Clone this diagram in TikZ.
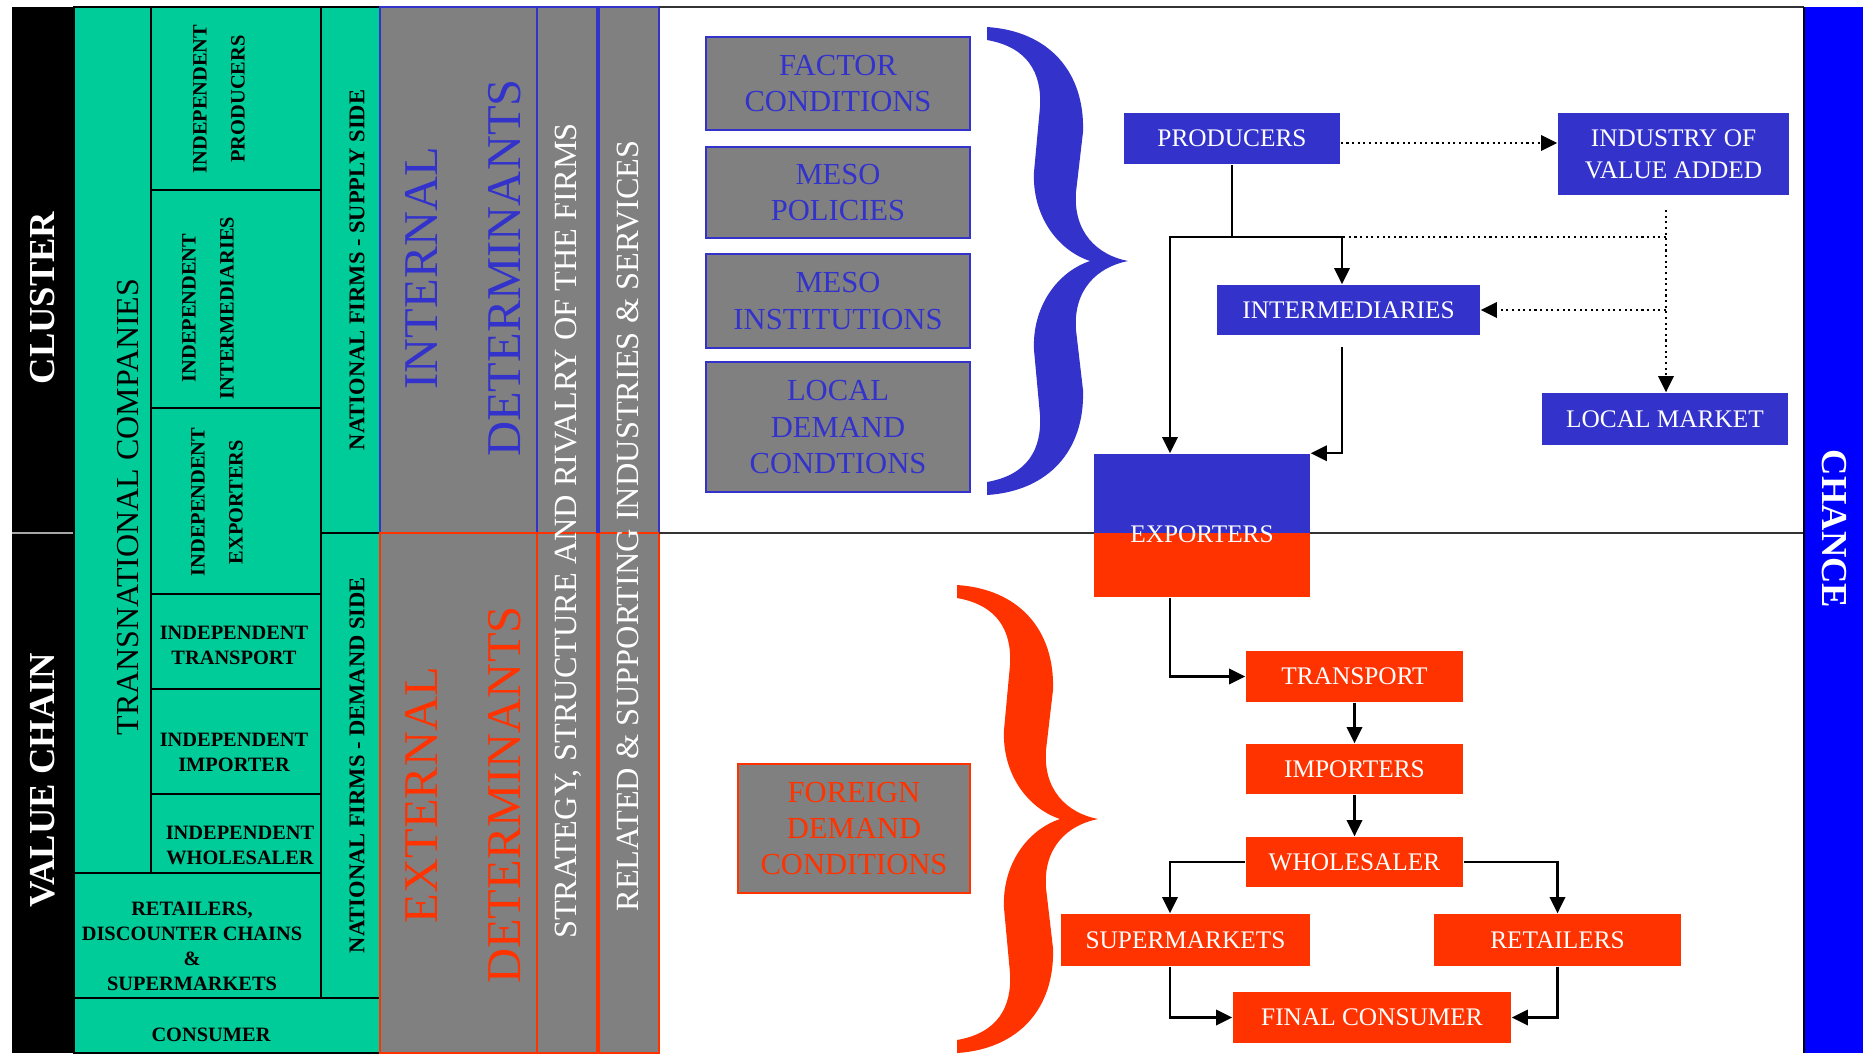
\documentclass[tikz,border=0pt]{standalone}
\usepackage{fontspec}
\setmainfont{Liberation Serif}
\usetikzlibrary{arrows.meta}

\definecolor{boxblue}{RGB}{51,51,204}
\definecolor{boxred}{RGB}{255,51,0}
\definecolor{cellgreen}{RGB}{0,204,153}
\definecolor{detgray}{RGB}{128,128,128}
\definecolor{chanceblue}{RGB}{0,0,255}

\newcommand\flowfont{\fontsize{7.2pt}{9pt}\selectfont}
\newcommand\condfont{\fontsize{8.7pt}{10.3pt}\selectfont}
\newcommand\cellfont{\bfseries\fontsize{5.8pt}{7.1pt}\selectfont}
\newcommand\sidefont{\bfseries\fontsize{5.8pt}{10.8pt}\selectfont}
\newcommand\natfont{\bfseries\fontsize{6.4pt}{8pt}\selectfont}
\newcommand\detfont{\fontsize{13.8pt}{23.6pt}\selectfont}
\newcommand\colfont{\fontsize{9.2pt}{11pt}\selectfont}
\newcommand\bigfont{\bfseries\fontsize{10.4pt}{12pt}\selectfont}
\newcommand\transfont{\fontsize{9.1pt}{11pt}\selectfont}

\tikzset{
  curly/.pic={
    \fill (0,0) .. controls (62,4) and (98,45) .. (96,105) -- (89,165)
      .. controls (86,205) and (110,228) .. (141,234)
      .. controls (110,240) and (86,263) .. (89,303) -- (96,363)
      .. controls (98,423) and (62,464) .. (0,468) -- (0,455)
      .. controls (40,448) and (55,423) .. (53,388) -- (47,323)
      .. controls (45,280) and (70,245) .. (103,234)
      .. controls (70,223) and (45,188) .. (47,145) -- (53,80)
      .. controls (55,45) and (40,20) .. (0,13) -- cycle;
  }
}

\begin{document}
\begin{tikzpicture}[x=0.01cm, y=-0.01cm,
  flowbox/.style={inner sep=0pt, text=white, font=\flowfont, align=center},
  bluebox/.style={flowbox, fill=boxblue},
  redbox/.style={flowbox, fill=boxred},
  condbox/.style={fill=detgray, draw=boxblue, line width=0.6pt, inner sep=0pt, align=center, text=boxblue, font=\condfont},
  cell/.style={fill=cellgreen, draw=black, line width=0.6pt},
  celltext/.style={font=\cellfont, align=center, inner sep=0pt},
  flowarrow/.style={-{Triangle[length=4.6pt,width=4.4pt]}, line width=0.6pt},
  dotarrow/.style={flowarrow, densely dotted},
]
\useasboundingbox[fill=white] (0,0) rectangle (1863,1053);

% left table
\fill[black] (12,7) rectangle (74,1053);
\draw[gray!70, line width=0.5pt] (12,533) -- (74,533);
\draw[cell] (74,7) rectangle (151,873);
\foreach \ya/\yb in {7/190, 190/408, 408/594, 594/689, 689/794, 794/873}
  \draw[cell] (151,\ya) rectangle (321,\yb);
\draw[cell] (74,873) rectangle (321,998);
\draw[cell] (74,998) rectangle (380,1053);
\draw[cell] (321,7) rectangle (380,533);
\draw[cell] (321,533) rectangle (380,998);

\node[white, font=\bigfont, rotate=90] (cluster) at (43,298) {CLUSTER};
\node[white, font=\bigfont, rotate=90] (valuechain) at (43,780) {VALUE CHAIN};
\node[font=\transfont, rotate=90] (tnc) at (128,507) {TRANSNATIONAL COMPANIES};
\node[celltext, font=\sidefont, rotate=90] (indprod) at (219,99) {INDEPENDENT\\PRODUCERS};
\node[celltext, font=\sidefont, rotate=90] (indinter) at (208,308) {INDEPENDENT\\INTERMEDIARIES};
\node[celltext, font=\sidefont, rotate=90] (indexp) at (217,502) {INDEPENDENT\\EXPORTERS};
\node[celltext] (indtrans) at (234,645) {INDEPENDENT\\TRANSPORT};
\node[celltext] (indimp) at (234,752) {INDEPENDENT\\IMPORTER};
\node[celltext] (indwhole) at (240,845) {INDEPENDENT\\WHOLESALER};
\node[celltext] (retail) at (192,946) {RETAILERS,\\DISCOUNTER CHAINS\\\&\\SUPERMARKETS};
\node[celltext] (consumer) at (211,1035) {CONSUMER};
\node[celltext, font=\natfont, rotate=90] (supply) at (357,270) {NATIONAL FIRMS - SUPPLY SIDE};
\node[celltext, font=\natfont, rotate=90] (demand) at (357,765) {NATIONAL FIRMS - DEMAND SIDE};

% determinant columns
\foreach \xa/\xb in {380/537, 537/598, 598/659} {
  \draw[fill=detgray, draw=boxblue, line width=0.6pt] (\xa,7) rectangle (\xb,533);
  \draw[fill=detgray, draw=boxred, line width=0.6pt] (\xa,533) rectangle (\xb,1053);
}
\draw[boxblue, line width=1.2pt] (598,7) -- (598,533);
\draw[boxred, line width=1.2pt] (598,533) -- (598,1053);

\node[rotate=90, font=\detfont, text=boxblue, align=center] (internal) at (463,268) {INTERNAL\\DETERMINANTS};
\node[rotate=90, font=\detfont, text=boxred, align=center] (external) at (463,795) {EXTERNAL\\DETERMINANTS};
\node[rotate=90, font=\colfont, white] (strategy) at (568,531) {STRATEGY, STRUCTURE AND RIVALRY OF THE FIRMS};
\node[rotate=90, font=\colfont, white] (related) at (628,526) {RELATED \& SUPPORTING INDUSTRIES \& SERVICES};

% frame of the right part
\draw[black!80, line width=0.6pt] (659,7) -- (1804,7);
\draw[black!80, line width=0.6pt] (659,533) -- (1804,533);
\fill[chanceblue] (1804,7) rectangle (1863,1053);
\draw[black, line width=0.7pt] (1804,7) -- (1804,1053);
\node[white, font=\bigfont, rotate=-90] (chance) at (1834,529) {CHANCE};

% conditions
\node[condbox, minimum width=2.64cm, minimum height=0.93cm] (factor) at (838,83.5) {FACTOR\\CONDITIONS};
\node[condbox, minimum width=2.64cm, minimum height=0.91cm] (mesopol) at (838,192.5) {MESO\\POLICIES};
\node[condbox, minimum width=2.64cm, minimum height=0.94cm] (mesoinst) at (838,301) {MESO\\INSTITUTIONS};
\node[condbox, minimum width=2.64cm, minimum height=1.30cm] (localdem) at (838,427) {LOCAL\\DEMAND\\CONDTIONS};
\node[condbox, draw=boxred, text=boxred, minimum width=2.32cm, minimum height=1.29cm] (foreign) at (854,828.5) {FOREIGN\\DEMAND\\CONDITIONS};

\pic[color=boxblue] at (987,27) {curly};
\pic[color=boxred] at (957,585) {curly};

% supply side chain
\node[bluebox, minimum width=2.16cm, minimum height=0.51cm] (prod) at (1232,138.5) {PRODUCERS};
\node[bluebox, minimum width=2.31cm, minimum height=0.82cm] (indva) at (1673.5,154) {INDUSTRY OF\\VALUE ADDED};
\node[bluebox, minimum width=2.63cm, minimum height=0.50cm] (inter) at (1348.5,310) {INTERMEDIARIES};
\node[bluebox, minimum width=2.46cm, minimum height=0.52cm] (locmkt) at (1665,419) {LOCAL MARKET};
\node[flowbox, minimum width=2.16cm, minimum height=1.43cm,
  path picture={
    \fill[boxblue] (path picture bounding box.north west) rectangle ([yshift=-0.79cm]path picture bounding box.north east);
    \fill[boxred] ([yshift=-0.79cm]path picture bounding box.north west) rectangle (path picture bounding box.south east);
  },
  label={[flowbox, yshift=-0.085cm]center:EXPORTERS}] (exp) at (1202,525.5) {};

% demand side chain
\node[redbox, minimum width=2.17cm, minimum height=0.51cm] (trans) at (1354.5,676.5) {TRANSPORT};
\node[redbox, minimum width=2.17cm, minimum height=0.50cm] (imp) at (1354.5,769) {IMPORTERS};
\node[redbox, minimum width=2.17cm, minimum height=0.50cm] (whole) at (1354.5,862) {WHOLESALER};
\node[redbox, minimum width=2.49cm, minimum height=0.52cm] (super) at (1185.5,940) {SUPERMARKETS};
\node[redbox, minimum width=2.47cm, minimum height=0.52cm] (ret) at (1557.5,940) {RETAILERS};
\node[redbox, minimum width=2.78cm, minimum height=0.51cm] (final) at (1372,1017.5) {FINAL CONSUMER};

% connectors
\coordinate (jl) at (1170,237);
\coordinate (jr) at (1342,237);
\coordinate (dv) at (1666,210);
\coordinate (ib) at (1342,347);
\draw[line width=0.6pt] (prod.south) -- (prod.south |- jl);
\draw[flowarrow] (prod.south |- jl) -- (jl) -- (jl |- exp.north);
\draw[flowarrow] (prod.south |- jl) -- (jr) -- (jr |- inter.north);
\draw[flowarrow] (ib) |- (exp.north east);
\draw[dotarrow] ([yshift=-0.045cm]prod.east) -- ([yshift=-0.045cm]prod.east -| indva.west);
\draw[dotarrow] (dv) -- (dv |- locmkt.north);
\draw[line width=0.6pt, densely dotted] (dv |- jr) -- (jr);
\draw[dotarrow] (dv |- inter.east) -- (inter.east);

\draw[flowarrow] (jl |- exp.south) |- (trans.west);
\draw[flowarrow] (trans.south) -- (imp.north);
\draw[flowarrow] (imp.south) -- (whole.north);
\draw[flowarrow] (whole.west) -| (jl |- super.north);
\draw[flowarrow] (whole.east) -| (ret.north);
\draw[flowarrow] (jl |- super.south) |- (final.west);
\draw[flowarrow] (ret.south) |- (final.east);
\end{tikzpicture}
\end{document}
